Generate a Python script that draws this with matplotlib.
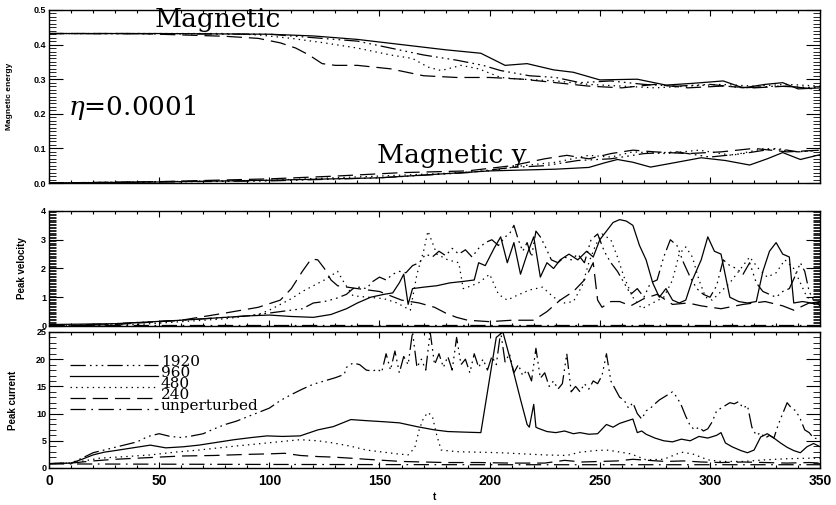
import numpy as np
import matplotlib
matplotlib.use("Agg")
import matplotlib.pyplot as plt
from matplotlib.lines import Line2D
from matplotlib.ticker import MultipleLocator, FormatStrFormatter
from matplotlib.legend_handler import HandlerLine2D

plt.rcParams["font.family"] = ["Liberation Sans", "DejaVu Sans"]
plt.rcParams["font.weight"] = "bold"
plt.rcParams["mathtext.fontset"] = "custom"
plt.rcParams["mathtext.it"] = "DejaVu Serif:style=italic:weight=normal"
plt.rcParams["mathtext.rm"] = "DejaVu Serif:weight=normal"
plt.rcParams["lines.scale_dashes"] = False

SERIF = "DejaVu Serif"

# runs in legend order
runs = ["1920", "960", "480", "240", "unperturbed"]

# ---- magnetic energy, total (t, E)
energy_1920 = [(0, 0.432), (100, 0.430), (140, 0.410), (155, 0.390), (170, 0.370), (185, 0.355),
               (197, 0.340), (205, 0.325), (218, 0.310), (230, 0.305), (241, 0.290), (255, 0.295),
               (270, 0.285), (285, 0.280), (300, 0.285), (315, 0.275), (330, 0.280), (350, 0.275)]
energy_960 = [(0, 0.432), (50, 0.432), (100, 0.430), (120, 0.425), (140, 0.415), (160, 0.400),
              (180, 0.385), (196, 0.375), (207, 0.340), (217, 0.345), (229, 0.327), (238, 0.320),
              (250, 0.298), (267, 0.300), (280, 0.283), (292, 0.288), (306, 0.295), (315, 0.275),
              (325, 0.285), (333, 0.290), (340, 0.272), (350, 0.275)]
energy_480 = [(0, 0.432), (80, 0.432), (95, 0.428), (110, 0.418), (125, 0.405), (140, 0.390),
              (155, 0.370), (165, 0.360), (172, 0.335), (178, 0.325), (187, 0.340), (195, 0.330),
              (205, 0.305), (215, 0.300), (230, 0.295), (245, 0.285), (260, 0.280), (275, 0.275),
              (290, 0.280), (305, 0.285), (320, 0.280), (335, 0.285), (350, 0.280)]
energy_240 = [(0, 0.432), (40, 0.432), (60, 0.428), (80, 0.424), (95, 0.418), (105, 0.405),
              (112, 0.390), (118, 0.370), (124, 0.345), (130, 0.340), (140, 0.340), (155, 0.330),
              (170, 0.310), (185, 0.305), (200, 0.305), (215, 0.300), (230, 0.290), (245, 0.280),
              (260, 0.275), (275, 0.285), (290, 0.275), (305, 0.280), (320, 0.275), (335, 0.280),
              (350, 0.270)]

# ---- magnetic energy, y component (t, E)
energy_y_1920 = [(0, 0.0), (100, 0.006), (150, 0.015), (190, 0.030), (210, 0.045), (225, 0.050),
                 (240, 0.065), (255, 0.070), (270, 0.085), (285, 0.090), (300, 0.075), (315, 0.085),
                 (330, 0.100), (340, 0.090), (350, 0.095)]
energy_y_960 = [(0, 0.0), (50, 0.003), (100, 0.008), (150, 0.015), (200, 0.035), (230, 0.040),
                (245, 0.045), (252, 0.058), (258, 0.068), (265, 0.060), (273, 0.046), (285, 0.060),
                (296, 0.073), (307, 0.065), (318, 0.052), (326, 0.070), (333, 0.088), (341, 0.068),
                (350, 0.082)]
energy_y_480 = [(0, 0.0), (100, 0.008), (150, 0.020), (180, 0.028), (200, 0.035), (215, 0.050),
                (230, 0.060), (245, 0.080), (255, 0.075), (265, 0.090), (280, 0.085), (295, 0.095),
                (310, 0.080), (325, 0.100), (340, 0.090), (350, 0.095)]
energy_y_240 = [(0, 0.0), (50, 0.004), (100, 0.012), (130, 0.020), (160, 0.030), (190, 0.035),
                (210, 0.050), (225, 0.070), (235, 0.080), (245, 0.070), (255, 0.085), (265, 0.095),
                (275, 0.090), (290, 0.085), (305, 0.090), (320, 0.100), (335, 0.090), (350, 0.095)]

# ---- peak velocity (t, v)
vel_1920_t = [0, 30, 60, 90, 100, 110, 115, 120, 125, 130, 135, 138, 141, 144, 147, 150, 153, 156,
              159, 162, 165, 168, 171, 174, 177, 180, 183, 186, 189, 192, 195, 198, 201, 204, 207,
              209, 211, 213, 215, 217, 219, 221, 223, 225, 228, 231, 234, 237, 240, 243, 246, 249,
              252, 255, 258, 261, 264, 267, 270, 273, 276, 279, 282, 285, 288, 291, 294, 297, 300,
              303, 306, 309, 312, 315, 318, 321, 324, 327, 330, 333, 336, 339, 341, 343, 345, 347,
              350]
vel_1920 = [0, 0.08, 0.2, 0.35, 0.45, 0.55, 0.6, 0.8, 0.85, 0.95, 1.1, 1.3, 1.35, 1.3, 1.55, 1.7,
            1.6, 1.8, 1.9, 1.85, 2.1, 2.2, 2.5, 2.4, 2.6, 2.45, 2.7, 2.5, 2.65, 2.4, 2.7, 2.9, 3.0,
            2.8, 3.1, 3.2, 3.5, 3.0, 2.6, 2.9, 2.4, 3.3, 3.1, 2.8, 2.3, 2.2, 2.4, 2.3, 2.5, 2.2, 3.0,
            3.2, 2.6, 2.2, 1.9, 1.5, 1.1, 1.3, 1.0, 1.5, 1.6, 2.4, 3.0, 2.8, 2.2, 1.7, 1.3, 1.1,
            1.0, 1.4, 2.3, 2.1, 2.0, 1.8, 2.2, 1.5, 1.2, 1.1, 1.0, 1.2, 1.3, 1.8, 2.2, 1.9, 1.2,
            0.9, 0.7]
vel_960_t = [0, 30, 60, 90, 100, 110, 120, 128, 135, 140, 146, 152, 156, 159, 161, 163, 165, 170,
             176, 182, 188, 193, 195, 198, 202, 205, 208, 211, 214, 217, 220, 223, 226, 229, 232,
             236, 240, 244, 247, 250, 253, 256, 259, 262, 265, 268, 271, 274, 277, 280, 283, 286,
             289, 292, 296, 299, 302, 305, 309, 313, 317, 321, 324, 327, 330, 333, 336, 338, 342,
             346, 350]
vel_960 = [0.05, 0.08, 0.2, 0.35, 0.38, 0.33, 0.3, 0.4, 0.6, 0.8, 1.0, 1.1, 1.15, 1.5, 1.8, 0.75,
           1.3, 1.35, 1.4, 1.5, 1.55, 1.6, 2.2, 2.1, 2.7, 3.1, 2.2, 2.9, 1.8, 2.5, 3.1, 1.7, 2.2,
           2.0, 2.3, 2.5, 2.3, 2.6, 2.4, 3.0, 3.3, 3.6, 3.7, 3.65, 3.5, 2.8, 2.3, 1.5, 1.0, 1.3,
           0.9, 0.8, 0.9, 1.6, 2.3, 3.1, 2.6, 2.5, 1.0, 0.85, 0.8, 0.85, 1.9, 2.6, 2.9, 2.5, 2.4,
           0.8, 0.85, 0.8, 0.85]
vel_480 = [(0, 0.0), (40, 0.05), (80, 0.25), (95, 0.4), (100, 0.55), (105, 0.75), (110, 0.95),
           (115, 1.2), (120, 1.4), (125, 1.6), (131, 1.9), (134, 1.5), (138, 1.05), (145, 1.0),
           (152, 0.95), (158, 0.8), (164, 0.55), (167, 1.8), (170, 2.6), (172, 3.3), (176, 2.5),
           (181, 2.3), (186, 2.2), (188, 1.3), (190, 1.35), (195, 1.5), (200, 1.8), (204, 1.1),
           (208, 0.9), (212, 1.05), (218, 1.25), (224, 1.35), (229, 1.0), (234, 0.8), (238, 0.85),
           (242, 1.4), (245, 2.2), (248, 2.8), (251, 3.2), (255, 3.0), (258, 2.4), (261, 1.7),
           (265, 1.0), (269, 0.6), (274, 0.8), (279, 1.0), (283, 1.6), (286, 2.5), (289, 2.75),
           (292, 2.4), (295, 1.6), (298, 1.0), (301, 0.9), (305, 1.2), (309, 1.5), (314, 2.0),
           (318, 2.4), (322, 2.0), (326, 1.7), (330, 1.85), (334, 2.3), (338, 2.0), (341, 1.5),
           (344, 1.0), (347, 0.9), (350, 0.8)]
vel_240 = [(0, 0.0), (30, 0.05), (60, 0.2), (80, 0.45), (95, 0.65), (105, 0.9), (110, 1.3),
           (115, 1.9), (119, 2.33), (122, 2.3), (125, 2.0), (128, 1.6), (131, 1.4), (140, 1.3),
           (150, 1.2), (160, 0.9), (168, 0.8), (175, 0.65), (180, 0.45), (185, 0.3), (190, 0.2),
           (200, 0.15), (210, 0.2), (220, 0.2), (226, 0.5), (232, 0.9), (238, 1.2), (243, 1.6),
           (247, 2.2), (249, 0.9), (251, 0.65), (255, 0.85), (259, 0.85), (264, 0.7), (270, 0.95),
           (276, 1.1), (283, 0.75), (290, 0.8), (296, 0.7), (305, 0.6), (315, 0.75), (325, 0.85),
           (333, 0.7), (338, 0.55), (345, 0.8), (350, 0.75)]
vel_unpert = [(0, 0.03), (350, 0.03)]

# ---- peak current (t, j)
cur_1920 = [(0, 0.8), (10, 0.9), (15, 1.8), (20, 2.8), (25, 3.3), (30, 3.8), (35, 4.3), (40, 4.8),
            (45, 5.8), (50, 6.3), (55, 5.8), (60, 5.6), (65, 5.9), (70, 6.3), (75, 7.2), (80, 8.0),
            (85, 8.6), (90, 9.4), (95, 10.2), (100, 11.0), (105, 12.4), (110, 13.5), (115, 14.5),
            (120, 15.4), (125, 16.0), (130, 16.6), (134, 17.2), (135, 18.5), (138, 19.3),
            (141, 19.0), (144, 18.0), (147, 17.8),
            (149, 18.2), (151, 17.6), (153, 21.0), (155, 18.0), (157, 21.5), (159, 17.5),
            (161, 20.5), (163, 19.0), (165, 25.0), (167, 18.5), (169, 20.0), (171, 18.0),
            (173, 25.0), (175, 19.0), (177, 21.0), (179, 18.5), (181, 20.5), (183, 18.0),
            (185, 24.0), (187, 19.0), (189, 20.0), (191, 17.5), (193, 21.0), (195, 18.5),
            (197, 20.0), (199, 18.0), (201, 20.5), (203, 19.0), (205, 25.0), (207, 19.5),
            (209, 21.0), (211, 17.5), (213, 19.0), (215, 17.0), (217, 18.0), (219, 16.0),
            (221, 22.0), (223, 16.5), (225, 17.5), (227, 15.0), (229, 16.0), (231, 14.5),
            (233, 15.5), (235, 21.0), (237, 14.0), (239, 15.0), (241, 14.0), (243, 15.5),
            (245, 14.5), (247, 16.0), (249, 15.5), (251, 17.0), (253, 21.0), (255, 16.0),
            (257, 14.5), (259, 13.0), (261, 12.5), (263, 11.0), (265, 12.0), (267, 10.0),
            (269, 9.0), (271, 10.5), (273, 11.0), (275, 11.8), (277, 12.5), (279, 13.0),
            (281, 13.5), (283, 14.0), (285, 13.0), (287, 11.5), (289, 9.5), (291, 7.8),
            (293, 7.0), (295, 7.5), (297, 6.8), (299, 7.2), (301, 8.5), (303, 10.5), (305, 11.0),
            (307, 11.5), (309, 12.0), (311, 11.8), (313, 12.2), (315, 11.0), (317, 11.5),
            (319, 7.5), (321, 6.0), (323, 6.5), (325, 5.5), (327, 6.0), (329, 5.5), (331, 8.0),
            (333, 10.0), (335, 12.0), (337, 11.0), (339, 10.5), (341, 9.0), (343, 7.0),
            (345, 6.5), (347, 5.5), (350, 5.3)]
cur_960_t = [0, 10, 15, 20, 25, 30, 38, 46, 53, 61, 68, 76, 84, 92, 99, 106, 114, 122, 129, 137,
             144, 152, 159, 167, 175, 181, 188, 196, 199, 203, 206, 210, 214, 217, 218, 220, 221,
             222, 226, 230, 234, 238, 241, 245, 249, 253, 256, 259, 262, 265, 267, 269, 271, 275,
             279, 283, 287, 291, 295, 299, 303, 305, 307, 310, 314, 317, 320, 323, 326, 329, 332,
             335, 338, 341, 344, 347, 350]
cur_960 = [0.8, 0.9, 1.6, 2.4, 2.9, 3.2, 3.7, 4.2, 3.7, 3.9, 4.2, 4.7, 5.2, 5.6, 5.9, 5.8, 5.9,
           7.0, 7.6, 8.9, 8.7, 8.5, 8.3, 7.6, 7.0, 6.7, 6.6, 6.5, 14.0, 24.0, 25.0, 19.0, 12.6,
           8.0, 7.5, 11.7, 7.5, 7.3, 6.7, 6.5, 6.8, 6.3, 6.5, 6.2, 6.3, 8.0, 7.5, 8.2, 8.6, 9.0,
           6.5, 6.8, 6.2, 5.5, 5.0, 4.8, 5.3, 5.0, 5.8, 5.5, 6.0, 6.5, 4.6, 3.9, 3.2, 2.8, 3.3,
           5.7, 6.3, 5.5, 4.6, 3.8, 3.2, 2.8, 3.9, 4.5, 3.9]
cur_480 = [(0, 0.8), (10, 0.9), (23, 1.8), (35, 2.1), (46, 2.4), (57, 2.9), (68, 3.3), (84, 4.0),
           (99, 4.6), (114, 5.2), (122, 5.0), (129, 4.6), (137, 4.0), (144, 3.3), (152, 2.9),
           (158, 2.6), (163, 2.4), (166, 3.7), (168, 7.0), (170, 9.2), (172, 10.2), (174, 9.5),
           (176, 6.0), (178, 3.3), (185, 3.0), (195, 2.9), (205, 2.8), (215, 2.6), (225, 2.4),
           (235, 2.3), (241, 2.9), (248, 3.2), (253, 3.3), (258, 3.0), (264, 2.6), (271, 1.5),
           (279, 1.6), (287, 2.9), (292, 2.6), (299, 1.5), (305, 1.2), (315, 1.2), (325, 1.5),
           (335, 1.7), (345, 1.8), (350, 1.8)]
cur_240 = [(0, 0.8), (10, 0.9), (20, 1.3), (30, 1.6), (45, 1.9), (60, 2.2), (75, 2.3), (90, 2.5),
           (100, 2.6), (107, 2.7), (114, 2.3), (122, 2.1), (129, 2.0), (137, 1.8), (144, 1.6),
           (152, 1.4), (160, 1.2), (170, 1.1), (180, 1.0), (195, 1.0), (210, 0.9), (225, 0.9),
           (234, 1.4), (242, 1.1), (250, 1.2), (258, 1.3), (265, 1.6), (272, 1.4), (280, 1.2),
           (288, 1.3), (296, 1.1), (305, 1.0), (315, 1.1), (325, 1.0), (335, 0.9), (345, 1.0),
           (350, 0.9)]
cur_unpert = [(0, 0.75), (100, 0.65), (200, 0.6), (300, 0.6), (350, 0.6)]

styles = {
    "1920": (0, (11, 3, 1.2, 3, 1.2, 3, 1.2, 3)),
    "960": "-",
    "480": (0, (1, 3)),
    "240": (0, (11, 5)),
    "unperturbed": (0, (11, 4, 1.2, 4)),
}


def draw(ax, t, y, run):
    line, = ax.plot(t, y, color="black", lw=0.9, linestyle=styles[run])
    return line


def draw_pairs(ax, pairs, run):
    t, y = np.array(pairs).T
    return draw(ax, t, y, run)


def style_axes(ax, ymax, ymajor, yminor, yfmt, show_x):
    ax.set_xlim(0, 350)
    ax.set_ylim(0, ymax)
    ax.xaxis.set_major_locator(MultipleLocator(50))
    ax.xaxis.set_minor_locator(MultipleLocator(10))
    ax.yaxis.set_major_locator(MultipleLocator(ymajor))
    ax.yaxis.set_minor_locator(MultipleLocator(yminor))
    ax.yaxis.set_major_formatter(FormatStrFormatter(yfmt))
    ax.tick_params(which="both", direction="in", top=True, right=True, width=0.8)
    ax.tick_params(axis="x", which="major", length=4, labelsize=10, pad=4)
    ax.tick_params(axis="x", which="minor", length=2)
    ax.tick_params(axis="y", which="major", length=10, labelsize=6.5, pad=2)
    ax.tick_params(axis="y", which="minor", length=5, width=0.6)
    if not show_x:
        ax.tick_params(axis="x", labelbottom=False)
    for s in ax.spines.values():
        s.set_linewidth(1.0)


class BaselineLine(HandlerLine2D):
    # put the sample line on the text baseline, IDL style
    def create_artists(self, legend, orig_handle, xdescent, ydescent, width, height, fontsize, trans):
        arts = super().create_artists(legend, orig_handle, xdescent, ydescent,
                                      width, height, fontsize, trans)
        for a in arts:
            a.set_ydata(np.asarray(a.get_ydata(), dtype=float) - 0.3 * fontsize)
        return arts


fig = plt.figure(figsize=(8.37, 5.05), dpi=100)
ax1 = fig.add_axes([0.0585, 0.6376, 0.9214, 0.3426])
ax2 = fig.add_axes([0.0585, 0.3545, 0.9214, 0.2277])
ax3 = fig.add_axes([0.0585, 0.0733, 0.9214, 0.2693])

# magnetic energy
draw_pairs(ax1, energy_1920, "1920")
draw_pairs(ax1, energy_960, "960")
draw_pairs(ax1, energy_480, "480")
draw_pairs(ax1, energy_240, "240")
draw_pairs(ax1, energy_y_1920, "1920")
draw_pairs(ax1, energy_y_960, "960")
draw_pairs(ax1, energy_y_480, "480")
draw_pairs(ax1, energy_y_240, "240")
style_axes(ax1, 0.5, 0.1, 0.01, "%.1f", False)
ax1.set_ylabel("Magnetic energy", fontsize=6, fontweight="bold")
ax1.yaxis.set_label_coords(-0.046, 0.5)
ax1.text(48, 0.45, "Magnetic", family=SERIF, fontsize=19, fontweight="normal")
ax1.text(149, 0.058, "Magnetic y", family=SERIF, fontsize=19, fontweight="normal")
ax1.text(8.6, 0.197, r"$\eta$=0.0001", family=SERIF, fontsize=19, fontweight="normal")

# peak velocity
draw(ax2, vel_1920_t, vel_1920, "1920")
draw(ax2, vel_960_t, vel_960, "960")
draw_pairs(ax2, vel_480, "480")
draw_pairs(ax2, vel_240, "240")
draw_pairs(ax2, vel_unpert, "unperturbed")
style_axes(ax2, 4.0, 1, 0.05, "%d", False)
ax2.set_ylabel("Peak velocity", fontsize=7, fontweight="bold")
ax2.yaxis.set_label_coords(-0.029, 0.5)

# peak current
handles = [
    draw_pairs(ax3, cur_1920, "1920"),
    draw(ax3, cur_960_t, cur_960, "960"),
    draw_pairs(ax3, cur_480, "480"),
    draw_pairs(ax3, cur_240, "240"),
    draw_pairs(ax3, cur_unpert, "unperturbed"),
]
style_axes(ax3, 25, 5, 1, "%d", True)
ax3.set_ylabel("Peak current", fontsize=7, fontweight="bold")
ax3.yaxis.set_label_coords(-0.040, 0.5)
ax3.set_xlabel("t", fontsize=7, fontweight="bold", labelpad=3)
ax3.legend(handles, runs, loc="upper left", bbox_to_anchor=(0.027, 0.83), frameon=False,
           prop={"family": SERIF, "size": 11, "weight": "normal"},
           handlelength=5.8, handletextpad=0.15, labelspacing=-0.2,
           borderpad=0, borderaxespad=0, handler_map={Line2D: BaselineLine()})

fig.savefig("out.png", dpi=100)
